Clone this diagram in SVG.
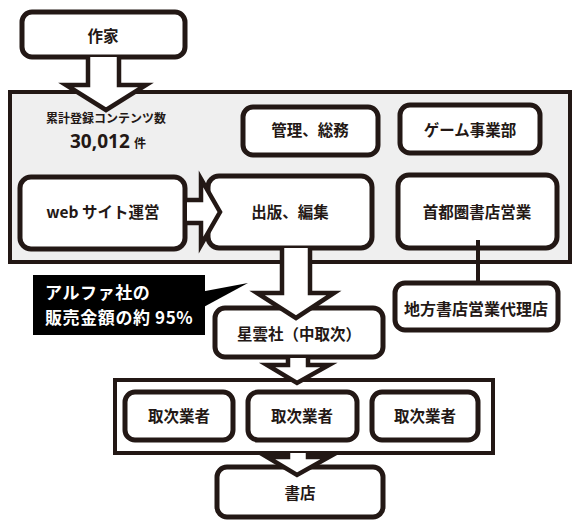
<svg xmlns="http://www.w3.org/2000/svg" width="579" height="526" viewBox="0 0 579 526">
<style>
.box{fill:#fff;stroke:#231815;stroke-width:5}
.panel{fill:#efefef;stroke:#231815;stroke-width:4}
.arr{fill:#fff;stroke:#231815;stroke-width:4.5;stroke-linejoin:miter}
.t{font-family:"Noto Sans CJK JP","Noto Sans",sans-serif;font-weight:bold;fill:#231815;text-anchor:middle;font-size:15.5px}
.w{font-family:"Noto Sans CJK JP","Noto Sans",sans-serif;font-weight:bold;fill:#fff;font-size:17px;letter-spacing:0.6px}
.ln{stroke:#231815;stroke-width:4;fill:none}
</style>
<rect class="panel" x="10" y="92" width="560" height="170"/>
<rect class="panel" x="115" y="380" width="378" height="73" style="fill:#fff"/>
<g id="stats">
<text class="t" x="106" y="123" style="font-size:12px">累計登録コンテンツ数</text>
<text class="t" x="70" y="148" style="font-family:'Noto Sans',sans-serif;font-size:19px;text-anchor:start">30,012</text>
<text class="t" x="134" y="148" style="font-size:12px;text-anchor:start">件</text>
</g>
<g id="n-sakka"><rect class="box" x="22" y="12" width="163" height="45" rx="10"/><text class="t" x="103" y="42">作家</text></g>
<g id="n-kanri"><rect class="box" x="243" y="107" width="135" height="48" rx="10"/><text class="t" x="310" y="136">管理、総務</text></g>
<g id="n-game"><rect class="box" x="400" y="105" width="140" height="48" rx="10"/><text class="t" x="470" y="136">ゲーム事業部</text></g>
<g id="n-web"><rect class="box" x="20" y="177" width="165" height="72" rx="11"/><text class="t" x="103" y="218">web サイト運営</text></g>
<g id="n-shuppan"><rect class="box" x="208" y="176" width="164" height="72" rx="11"/><text class="t" x="290" y="218">出版、編集</text></g>
<g id="n-shuto"><rect class="box" x="398" y="175" width="159" height="73" rx="11"/><text class="t" x="477" y="218">首都圏書店営業</text></g>
<g id="n-chiho"><rect class="box" x="395" y="283" width="163" height="47" rx="10"/><text class="t" x="476" y="315" style="font-size:16px">地方書店営業代理店</text></g>
<g id="n-seiun"><rect class="box" x="215" y="308" width="168" height="49" rx="10"/><text class="t" x="299" y="340">星雲社（中取次）</text></g>
<g id="n-tori1"><rect class="box" x="125" y="392" width="108" height="48" rx="10"/><text class="t" x="179" y="422">取次業者</text></g>
<g id="n-tori2"><rect class="box" x="248" y="392" width="109" height="48" rx="10"/><text class="t" x="302" y="422">取次業者</text></g>
<g id="n-tori3"><rect class="box" x="372" y="392" width="106" height="48" rx="10"/><text class="t" x="425" y="422">取次業者</text></g>
<g id="n-shoten"><rect class="box" x="217" y="467" width="166" height="50" rx="10"/><text class="t" x="300" y="499">書店</text></g>
<g id="callout">
<polygon points="200,292 248,283 200,309" fill="#000"/>
<rect x="33" y="275" width="172" height="60" fill="#000"/>
<text class="w" x="45" y="299">アルファ社の</text>
<text class="w" x="45" y="324">販売金額の約 95%</text>
</g>
<g id="connectors">
<path class="arr" d="M88,57 L88,85 L66,85 L106,110 L146,85 L119,85 L119,57"/>
<path class="arr" d="M187,200 L201,200 L201,179 L220,212 L201,245 L201,223 L187,223"/>
<path class="arr" d="M282,248 L282,293 L257,293 L296,318 L334,293 L310,293 L310,248"/>
<path class="arr" d="M288,358 L288,365 L267,365 L297,383 L329,365 L308,365 L308,358"/>
<path class="arr" d="M288,453 L288,457 L267,457 L297,475 L329,457 L308,457 L308,453"/>
<line class="ln" x1="478" y1="240" x2="478" y2="284"/>
</g>
</svg>
